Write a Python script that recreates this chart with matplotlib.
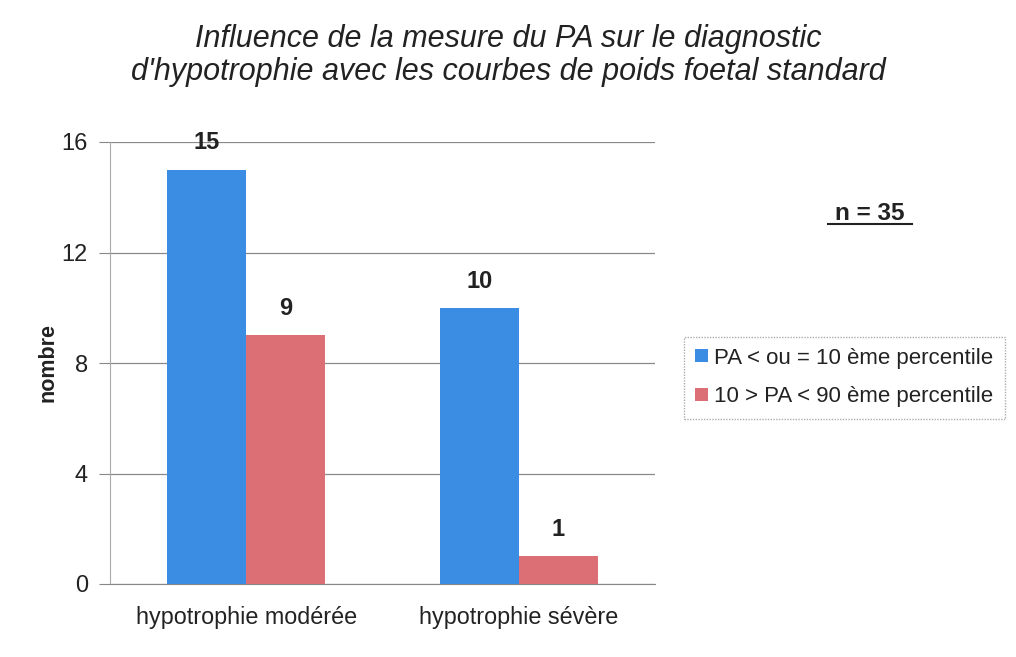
import matplotlib
matplotlib.use("Agg")
import matplotlib.pyplot as plt
import numpy as np

categories = ["hypotrophie modérée", "hypotrophie sévère"]
series_names = ["PA < ou = 10 ème percentile", "10 > PA < 90 ème percentile"]
pa_low = [15, 10]
pa_mid = [9, 1]
yticks = [0, 4, 8, 12, 16]

plt.rcParams['font.family'] = ['Liberation Sans', 'DejaVu Sans']

fig = plt.figure(figsize=(10.16, 6.57), dpi=100)
ax = fig.add_axes([110/1016, 1-584/657, 545/1016, (584-142)/657])

blue = "#3a8de2"
red = "#dc6e75"
w = 0.29
x = np.arange(len(categories))
b1 = ax.bar(x - w/2, pa_low, w, color=blue, label=series_names[0], zorder=3)
b2 = ax.bar(x + w/2, pa_mid, w, color=red, label=series_names[1], zorder=3)

for bars in (b1, b2):
    for r in bars:
        ax.text(r.get_x() + r.get_width()/2, r.get_height() + 0.55, f"{int(r.get_height())}",
                ha="center", va="bottom", fontsize=17, fontweight="bold", color="#222222")

ax.set_xlim(-0.5, 1.5)
ax.set_ylim(0, 16)
ax.set_yticks(yticks)
ax.set_xticks(x)
ax.set_xticklabels(categories, fontsize=16.8, color="#222222")
ax.tick_params(axis='x', length=0, pad=16)
ax.tick_params(axis='y', labelsize=17, length=8, color="#888888", labelcolor="#222222", pad=8)
ax.yaxis.grid(True, color="#8a8a8a", linewidth=0.9, zorder=0)
for s in ("top", "right"):
    ax.spines[s].set_visible(False)
ax.spines["left"].set_color("#aaaaaa")
ax.spines["bottom"].set_color("#888888")
ax.set_ylabel("nombre", fontsize=15.5, fontweight="bold", labelpad=2, color="#222222")

fig.text(508/1016, 1-39/657, "Influence de la mesure du PA sur le diagnostic",
         ha="center", va="center", fontsize=22, style="italic", color="#222222")
fig.text(508/1016, 1-72/657, "d'hypotrophie avec les courbes de poids foetal standard",
         ha="center", va="center", fontsize=22, style="italic", color="#222222")

fig.text(870/1016, 1-213/657, "n = 35", ha="center", va="center", fontsize=17.5,
         fontweight="bold", color="#222222")
fig.add_artist(plt.Line2D([828/1016, 912/1016], [1-224/657, 1-224/657], color="#222222", lw=1.5))

leg = fig.legend(loc="center", bbox_to_anchor=(844.5/1016, 1-377.5/657), fontsize=16,
                 frameon=True, fancybox=False, edgecolor="#999999", handlelength=0.55,
                 handleheight=0.55, handletextpad=0.3, borderpad=0.5, labelspacing=0.8,
                 borderaxespad=0)
leg.get_frame().set_linestyle((0, (1, 1)))
for t in leg.get_texts():
    t.set_color("#222222")

fig.savefig("out.png", dpi=100)
